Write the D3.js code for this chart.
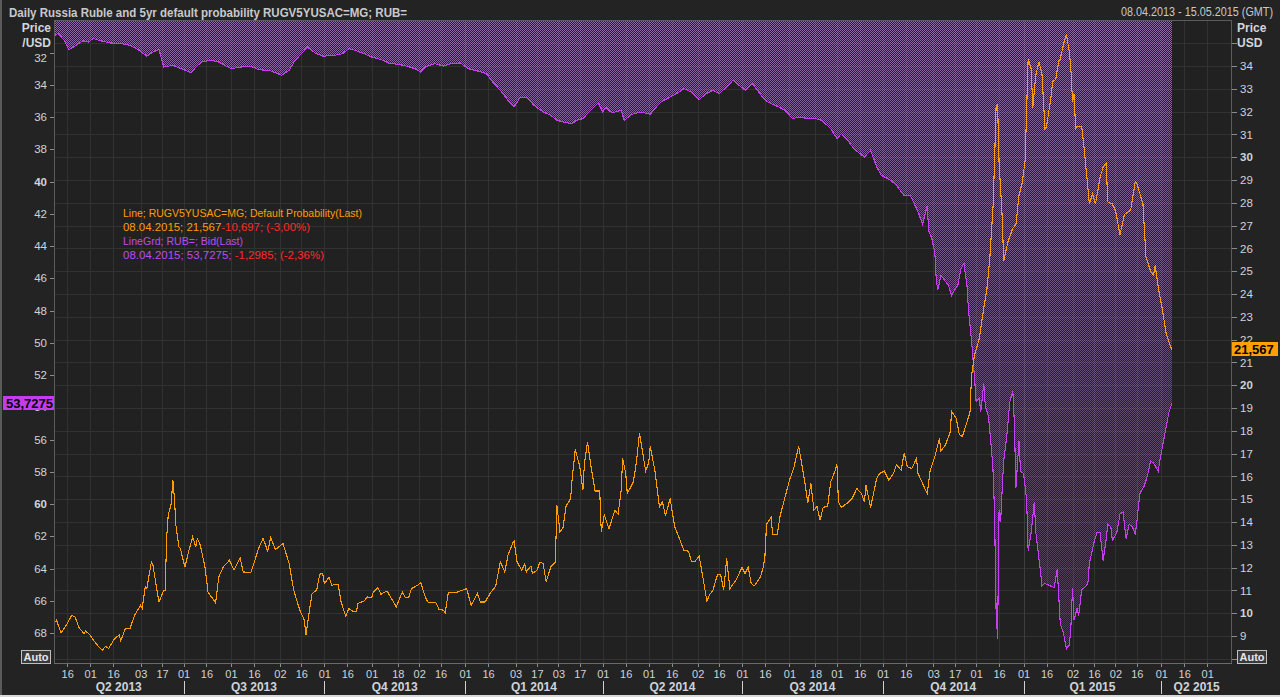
<!DOCTYPE html>
<html><head><meta charset="utf-8">
<script src="https://cdn.jsdelivr.net/npm/d3@7"></script>
<style>html,body{margin:0;padding:0;background:#232323;overflow:hidden}</style>
</head><body><svg id="c" width="1280" height="697"></svg>
<script>
// ---------- DATA ----------
const cdsDates = [
"2013-04-08","2013-04-09","2013-04-12","2013-04-16","2013-04-19","2013-04-21","2013-04-24","2013-04-27","2013-04-28",
"2013-05-01","2013-05-04","2013-05-07","2013-05-09","2013-05-11","2013-05-13","2013-05-17","2013-05-20","2013-05-21","2013-05-24","2013-05-27","2013-05-30",
"2013-06-03","2013-06-04","2013-06-06","2013-06-07","2013-06-10","2013-06-11","2013-06-14","2013-06-15","2013-06-18","2013-06-19","2013-06-20","2013-06-21","2013-06-23","2013-06-24","2013-06-25","2013-06-26","2013-06-28","2013-06-29",
"2013-07-01","2013-07-02","2013-07-04","2013-07-07","2013-07-09","2013-07-10","2013-07-12","2013-07-15","2013-07-17","2013-07-22","2013-07-24","2013-07-27","2013-07-31",
"2013-08-03","2013-08-07","2013-08-09","2013-08-14","2013-08-16","2013-08-19","2013-08-22","2013-08-25","2013-08-27","2013-08-30",
"2013-09-04","2013-09-08","2013-09-11","2013-09-15","2013-09-18","2013-09-19","2013-09-21","2013-09-23","2013-09-26","2013-09-28","2013-09-30",
"2013-10-01","2013-10-04","2013-10-06","2013-10-10","2013-10-12","2013-10-15","2013-10-17","2013-10-20","2013-10-22","2013-10-23","2013-10-27","2013-10-29",
"2013-11-01","2013-11-02","2013-11-05","2013-11-07","2013-11-11","2013-11-17","2013-11-21","2013-11-23","2013-11-25","2013-11-27",
"2013-12-01","2013-12-03","2013-12-06","2013-12-08","2013-12-13","2013-12-15","2013-12-18","2013-12-19","2013-12-21","2013-12-27",
"2014-01-02","2014-01-05","2014-01-09","2014-01-11","2014-01-14","2014-01-18","2014-01-21","2014-01-24","2014-01-27","2014-01-29",
"2014-02-01","2014-02-02","2014-02-04","2014-02-07","2014-02-09","2014-02-10","2014-02-13","2014-02-14","2014-02-17","2014-02-19","2014-02-21","2014-02-23","2014-02-26",
"2014-03-01","2014-03-02","2014-03-04","2014-03-06","2014-03-08","2014-03-11","2014-03-12","2014-03-14","2014-03-17","2014-03-19","2014-03-20","2014-03-22","2014-03-24","2014-03-27","2014-03-30","2014-03-31",
"2014-04-02","2014-04-05","2014-04-09","2014-04-11","2014-04-13","2014-04-14","2014-04-16","2014-04-17","2014-04-21","2014-04-23","2014-04-25","2014-04-27","2014-04-29",
"2014-05-01","2014-05-02","2014-05-05","2014-05-08","2014-05-10","2014-05-12","2014-05-15","2014-05-18","2014-05-21","2014-05-24","2014-05-27","2014-05-29","2014-05-31",
"2014-06-03","2014-06-05","2014-06-08","2014-06-10","2014-06-12","2014-06-15","2014-06-17","2014-06-19","2014-06-21","2014-06-23","2014-06-27",
"2014-07-01","2014-07-03","2014-07-05","2014-07-07","2014-07-09","2014-07-13","2014-07-15","2014-07-16","2014-07-17","2014-07-20","2014-07-21","2014-07-24","2014-07-26","2014-07-30",
"2014-08-01","2014-08-04","2014-08-07","2014-08-09","2014-08-11","2014-08-13","2014-08-15","2014-08-17","2014-08-19","2014-08-21","2014-08-23","2014-08-26","2014-08-28","2014-08-31",
"2014-09-01","2014-09-02","2014-09-04","2014-09-08","2014-09-11","2014-09-14","2014-09-17","2014-09-19","2014-09-20","2014-09-23","2014-09-27","2014-09-29",
"2014-10-02","2014-10-05","2014-10-08","2014-10-10","2014-10-13","2014-10-15","2014-10-17","2014-10-20","2014-10-23","2014-10-24","2014-10-27","2014-10-30",
"2014-11-01","2014-11-04","2014-11-07","2014-11-08","2014-11-11","2014-11-14","2014-11-15","2014-11-18","2014-11-20","2014-11-22","2014-11-25","2014-11-27","2014-11-28","2014-11-30",
"2014-12-03","2014-12-06","2014-12-08","2014-12-10","2014-12-12","2014-12-13","2014-12-14","2014-12-15","2014-12-16","2014-12-18","2014-12-19","2014-12-22","2014-12-25","2014-12-27","2014-12-29","2014-12-31",
"2015-01-02","2015-01-04","2015-01-06","2015-01-07","2015-01-09","2015-01-11","2015-01-13","2015-01-15","2015-01-16","2015-01-19","2015-01-20","2015-01-22","2015-01-24","2015-01-25","2015-01-27","2015-01-29","2015-01-31",
"2015-02-01","2015-02-02","2015-02-03","2015-02-04","2015-02-05","2015-02-08","2015-02-10","2015-02-13","2015-02-15","2015-02-17","2015-02-20","2015-02-22","2015-02-24","2015-02-25","2015-02-28",
"2015-03-02","2015-03-05","2015-03-08","2015-03-12","2015-03-15","2015-03-16","2015-03-20","2015-03-22","2015-03-25","2015-03-27","2015-03-28","2015-03-30",
"2015-04-02","2015-04-04","2015-04-07","2015-04-08"];
const cdsValues = [
9.62,9.69,9.14,9.55,9.91,9.84,9.33,9.11,9.22,
9.04,8.74,8.50,8.38,8.55,8.45,8.89,9.04,8.79,9.33,9.33,9.91,
10.35,10.21,11.15,11.08,12.25,12.11,10.86,10.49,11.01,11.01,13.35,14.30,14.81,15.86,15.10,13.86,12.91,12.84,
12.25,12.03,12.62,13.35,12.91,13.28,12.98,12.03,10.93,10.45,11.59,12.03,12.32,
11.89,12.43,11.81,11.78,12.18,12.84,13.28,12.72,13.32,12.79,
13.06,12.18,11.01,10.13,9.69,9.04,9.99,10.86,11.01,11.71,11.74,
11.30,11.57,11.23,11.27,10.49,9.87,10.21,10.06,10.06,10.43,10.53,10.71,
10.69,10.93,11.13,10.83,10.98,10.28,10.93,10.67,10.67,11.08,
11.23,11.35,10.71,10.45,10.45,10.16,10.13,10.01,10.89,10.93,
11.08,10.35,10.86,10.49,10.49,10.93,11.18,12.25,11.81,12.54,
13.06,13.17,12.25,11.89,12.15,11.81,12.07,11.74,11.89,12.25,12.18,11.37,12.03,
12.25,14.74,13.57,13.76,14.69,15.03,15.91,17.18,16.42,15.39,16.57,17.51,16.57,15.36,15.36,13.57,
14.30,13.71,14.52,14.34,15.39,16.79,16.13,15.25,15.76,16.64,17.91,17.07,16.24,
16.59,17.32,16.27,14.66,14.88,14.27,15.03,13.79,13.28,12.76,12.72,12.25,12.25,
12.50,11.74,10.53,10.83,11.01,11.70,11.71,11.01,12.40,11.08,11.45,
12.00,11.74,12.03,11.30,11.20,11.59,12.06,12.54,13.90,14.20,13.46,13.46,14.30,15.32,
15.83,16.42,17.32,16.57,15.76,14.84,15.69,14.52,14.69,14.08,14.64,14.69,15.76,16.27,
16.54,14.88,14.64,14.84,15.03,15.47,15.25,14.88,15.61,14.64,15.91,16.13,
16.23,15.83,16.13,16.52,16.27,17.03,16.42,16.35,16.79,16.13,15.69,15.25,
16.27,16.86,17.66,17.12,17.39,17.93,18.86,18.55,17.84,17.75,18.38,18.82,20.43,21.33,
22.04,23.39,24.19,25.63,27.77,29.74,32.16,32.34,29.74,27.42,25.45,26.34,26.88,27.06,28.31,28.85,
29.83,34.31,33.86,32.16,33.59,34.18,33.68,31.26,31.32,32.70,33.32,33.41,34.22,34.31,34.93,35.38,34.57,
33.77,32.43,32.79,31.26,31.36,31.32,30.10,27.95,28.40,27.95,29.12,29.57,29.74,28.04,27.95,
27.68,26.61,27.50,27.68,28.94,28.85,27.95,25.63,25.00,24.82,25.27,24.29,
23.21,22.32,21.69,21.567];

const rubDates = [
"2013-04-08","2013-04-10","2013-04-14","2013-04-17","2013-04-22","2013-04-26","2013-04-30",
"2013-05-03","2013-05-08","2013-05-14","2013-05-21","2013-05-27",
"2013-06-02","2013-06-07","2013-06-11","2013-06-15","2013-06-18","2013-06-24",
"2013-07-02","2013-07-06","2013-07-09","2013-07-13","2013-07-19","2013-07-24",
"2013-08-01","2013-08-08","2013-08-14","2013-08-19","2013-08-27",
"2013-09-03","2013-09-08","2013-09-12","2013-09-17","2013-09-20","2013-09-25","2013-09-30",
"2013-10-08","2013-10-13","2013-10-17","2013-10-21","2013-10-27",
"2013-11-01","2013-11-07","2013-11-12","2013-11-18","2013-11-24","2013-11-29",
"2013-12-03","2013-12-06","2013-12-12","2013-12-18","2013-12-23","2013-12-29",
"2014-01-03","2014-01-09","2014-01-15","2014-01-19","2014-01-24","2014-01-29",
"2014-02-02","2014-02-06","2014-02-10","2014-02-15","2014-02-21","2014-02-26",
"2014-03-02","2014-03-06","2014-03-12","2014-03-15","2014-03-19","2014-03-23","2014-03-26","2014-03-29",
"2014-04-01","2014-04-03","2014-04-07","2014-04-13","2014-04-15","2014-04-20","2014-04-26",
"2014-05-02","2014-05-05","2014-05-09","2014-05-15","2014-05-20","2014-05-24","2014-05-29",
"2014-06-03","2014-06-07","2014-06-12","2014-06-16","2014-06-21","2014-06-25","2014-06-29",
"2014-07-03","2014-07-08","2014-07-11","2014-07-16","2014-07-20","2014-07-25","2014-07-29",
"2014-08-03","2014-08-07","2014-08-13","2014-08-18","2014-08-22","2014-08-28",
"2014-09-01","2014-09-04","2014-09-08","2014-09-12","2014-09-16","2014-09-19","2014-09-23","2014-09-27","2014-09-30",
"2014-10-06","2014-10-10","2014-10-11","2014-10-13","2014-10-15","2014-10-19","2014-10-21","2014-10-24","2014-10-27","2014-10-30","2014-10-31",
"2014-11-02","2014-11-04","2014-11-05","2014-11-06","2014-11-08","2014-11-11","2014-11-13","2014-11-15","2014-11-17","2014-11-19","2014-11-21","2014-11-23","2014-11-25","2014-11-26","2014-11-28","2014-11-30",
"2014-12-01","2014-12-03","2014-12-04","2014-12-06","2014-12-07","2014-12-09","2014-12-11","2014-12-12","2014-12-13","2014-12-14","2014-12-15","2014-12-16","2014-12-17","2014-12-18","2014-12-19","2014-12-21","2014-12-23","2014-12-25","2014-12-26","2014-12-27","2014-12-29","2014-12-30",
"2015-01-01","2015-01-03","2015-01-04","2015-01-06","2015-01-08","2015-01-09","2015-01-12","2015-01-13","2015-01-15","2015-01-18","2015-01-21","2015-01-23","2015-01-25","2015-01-27","2015-01-29","2015-01-31",
"2015-02-01","2015-02-02","2015-02-03","2015-02-05","2015-02-06","2015-02-08","2015-02-10","2015-02-12","2015-02-13","2015-02-16","2015-02-18","2015-02-20","2015-02-22","2015-02-24","2015-02-25","2015-02-27","2015-02-28",
"2015-03-03","2015-03-05","2015-03-07","2015-03-09","2015-03-11","2015-03-13","2015-03-15","2015-03-16","2015-03-18","2015-03-21","2015-03-23","2015-03-25","2015-03-27","2015-03-30","2015-03-31",
"2015-04-02","2015-04-04","2015-04-06","2015-04-08"];
const rubValues = [
30.93,30.82,31.24,31.82,31.55,31.28,31.35,
31.13,31.28,31.41,31.44,31.55,
31.86,32.23,31.97,31.82,32.90,32.79,
33.10,33.27,32.90,32.59,32.48,32.59,
33.00,32.90,32.85,33.06,33.14,
33.41,33.10,32.48,31.97,31.66,32.03,32.23,
32.17,32.07,31.76,31.86,32.07,
32.28,32.44,32.65,32.73,32.85,33.00,
33.21,32.90,32.69,32.85,32.69,32.65,
33.00,33.14,33.31,33.83,34.34,34.96,
35.38,34.79,34.76,35.27,35.69,35.89,
36.20,36.31,36.41,36.20,36.10,35.69,35.41,35.13,
35.69,35.41,35.75,35.58,36.20,35.83,35.69,
35.83,35.48,35.07,34.76,34.51,34.24,34.45,
34.92,34.59,34.34,34.55,34.14,33.72,34.03,
34.34,33.93,34.34,34.96,35.17,35.38,35.58,
36.10,36.00,36.10,36.10,36.20,36.72,
37.34,37.03,37.44,37.96,38.27,38.48,38.06,39.10,39.61,
39.92,40.23,40.38,40.63,40.88,40.88,41.26,41.89,42.66,41.52,43.04,
43.54,44.43,46.20,46.71,45.82,46.20,46.45,47.09,46.71,46.45,45.44,45.06,46.45,47.97,49.87,52.28,
53.66,53.42,54.30,52.53,53.92,54.55,56.58,57.84,60.38,66.45,68.35,60.38,61.13,59.11,57.34,55.82,53.66,53.03,55.06,58.98,56.07,57.97,
58.10,59.74,62.91,61.76,59.87,61.76,64.17,65.06,64.93,65.06,65.18,64.05,67.46,67.97,68.98,68.73,
67.46,65.18,67.21,66.45,66.95,65.31,65.18,64.93,63.67,62.40,61.76,61.76,63.54,62.15,61.26,61.39,62.27,
61.76,60.63,60.50,62.15,61.26,61.39,61.90,61.13,59.36,58.86,58.22,57.34,57.47,57.97,57.34,
56.33,55.31,54.30,53.7275];

const tickDates = ["2013-04-16","2013-05-01","2013-05-16","2013-06-03","2013-06-17","2013-07-01","2013-07-16","2013-08-01","2013-08-16","2013-09-02","2013-09-16",
"2013-10-01","2013-10-16","2013-11-01","2013-11-18","2013-12-02","2013-12-16","2014-01-01","2014-01-16","2014-02-03","2014-02-17","2014-03-03","2014-03-17",
"2014-04-01","2014-04-16","2014-05-01","2014-05-16","2014-06-02","2014-06-16","2014-07-01","2014-07-16","2014-08-01","2014-08-18","2014-09-01","2014-09-16",
"2014-10-01","2014-10-16","2014-11-03","2014-11-17","2014-12-01","2014-12-16","2015-01-01","2015-01-16","2015-02-02","2015-02-16","2015-03-02","2015-03-16",
"2015-04-01","2015-04-16","2015-05-01"];
const yearStarts = ["2014-01-01","2015-01-01"];
const quarterStarts = ["2013-04-01","2013-07-01","2013-10-01","2014-01-01","2014-04-01","2014-07-01","2014-10-01","2015-01-01","2015-04-01","2015-07-01"];
const quarterLabels = ["Q2 2013","Q3 2013","Q4 2013","Q1 2014","Q2 2014","Q3 2014","Q4 2014","Q1 2015","Q2 2015"];
const leftTicks = [32,34,36,38,40,42,44,46,48,50,52,54,56,58,60,62,64,66,68];
const leftBold = [40,60];
const rightTicks = [9,10,11,12,13,14,15,16,17,18,19,20,21,22,23,24,25,26,27,28,29,30,31,32,33,34];
const rightBold = [10,20,30];
const gridValues = [8,9,10,11,12,13,14,15,16,17,18,19,20,21,22,23,24,25,26,27,28,29,30,31,32,33,34,35];
const titleText = "Daily Russia Ruble and 5yr default probability RUGV5YUSAC=MG; RUB=";
const rangeText = "08.04.2013 - 15.05.2015 (GMT)";
const lastCds = 21.567, lastRub = 53.7275;

// ---------- SETUP ----------
const ORANGE = "#ff9c00", PURPLE = "#c83cf2", RED = "#ff2a2a", TXT = "#cfd3da";
const FONT = "'Liberation Sans', Arial, sans-serif";
const L = 54, R = 1232, T = 20, B = 663;
const svg = d3.select("#c");
const parse = d3.utcParse("%Y-%m-%d");
const x = d3.scaleUtc().domain([parse("2013-04-08"), parse("2015-04-08")]).range([55, 1172]);
const yL = d3.scaleLinear().domain([30, 70]).range([20.25, 665.25]);
const yR = d3.scaleLinear().domain([20, 34]).range([385.2, 66]);

const cds = cdsDates.map((d, i) => ({date: parse(d), v: cdsValues[i]}));
const rub = rubDates.map((d, i) => ({date: parse(d), v: rubValues[i]}));

const defs = svg.append("defs");
const pat = defs.append("pattern").attr("id", "dots").attr("patternUnits", "userSpaceOnUse")
  .attr("width", 2).attr("height", 2);
pat.append("rect").attr("x", 0).attr("y", 0).attr("width", 1).attr("height", 1).attr("fill", "#9c74b4");
pat.append("rect").attr("x", 1).attr("y", 1).attr("width", 1).attr("height", 1).attr("fill", "#9c74b4");
const grad = defs.append("linearGradient").attr("id", "fade").attr("gradientUnits", "userSpaceOnUse")
  .attr("x1", 0).attr("y1", T).attr("x2", 0).attr("y2", B);
grad.append("stop").attr("offset", 0).attr("stop-color", "#fff").attr("stop-opacity", 0.9);
grad.append("stop").attr("offset", 1).attr("stop-color", "#fff").attr("stop-opacity", 0.3);
defs.append("mask").attr("id", "fm").attr("maskUnits", "userSpaceOnUse")
  .attr("x", 0).attr("y", 0).attr("width", 1280).attr("height", 697)
  .append("rect").attr("x", L).attr("y", T).attr("width", R - L).attr("height", B - T).attr("fill", "url(#fade)");
defs.append("clipPath").attr("id", "pc").append("rect")
  .attr("x", L + 1).attr("y", T + 1).attr("width", R - L - 1).attr("height", B - T - 1);

// backgrounds
svg.append("rect").attr("width", 1280).attr("height", 697).attr("fill", "#232323");
svg.append("rect").attr("x", 0).attr("y", 0).attr("width", 2).attr("height", 697).attr("fill", "#5a5a5a");
svg.append("rect").attr("x", 0).attr("y", 695).attr("width", 1280).attr("height", 2).attr("fill", "#d8d8d8");
svg.append("rect").attr("x", L).attr("y", T).attr("width", R - L).attr("height", B - T).attr("fill", "#212121");

// grid
const grid = svg.append("g").attr("shape-rendering", "crispEdges");
grid.selectAll(".h").data(gridValues).join("line")
  .attr("x1", L).attr("x2", R)
  .attr("y1", d => Math.round(yR(d)) + 0.5).attr("y2", d => Math.round(yR(d)) + 0.5)
  .attr("stroke", "#323232");
grid.selectAll(".v").data(tickDates.map(parse)).join("line")
  .attr("y1", T).attr("y2", B)
  .attr("x1", d => Math.round(x(d)) + 0.5).attr("x2", d => Math.round(x(d)) + 0.5)
  .attr("stroke", "#323232");
grid.selectAll(".yv").data(yearStarts.map(parse)).join("line")
  .attr("y1", T).attr("y2", B)
  .attr("x1", d => Math.round(x(d)) + 0.5).attr("x2", d => Math.round(x(d)) + 0.5)
  .attr("stroke", "#3e3e3e");

// plot content
const plot = svg.append("g").attr("clip-path", "url(#pc)");
const area = d3.area().x(d => x(d.date)).y0(T).y1(d => yL(d.v));
plot.append("path").datum(rub).attr("d", area).attr("fill", "url(#dots)").attr("mask", "url(#fm)");
const lineR = d3.line().x(d => x(d.date)).y(d => yL(d.v));
const lineC = d3.line().x(d => x(d.date)).y(d => yR(d.v));
plot.append("path").datum(rub).attr("d", lineR).attr("fill", "none").attr("stroke", PURPLE)
  .attr("stroke-width", 1.1).attr("shape-rendering", "crispEdges");
plot.append("path").datum(cds).attr("d", lineC).attr("fill", "none").attr("stroke", ORANGE)
  .attr("stroke-width", 1.1).attr("shape-rendering", "crispEdges");

// frame
svg.append("rect").attr("x", L + 0.5).attr("y", T + 0.5).attr("width", R - L - 1).attr("height", B - T)
  .attr("fill", "none").attr("stroke", "#5c5c5c").attr("shape-rendering", "crispEdges");

// axes
function styleAxis(g, size) {
  g.select(".domain").remove();
  g.attr("font-family", FONT).attr("font-size", size);
  g.selectAll(".tick line").attr("stroke", "#8c8c8c").attr("shape-rendering", "crispEdges");
  g.selectAll(".tick text").attr("fill", TXT);
}
const gl = svg.append("g").attr("transform", `translate(${L},0)`)
  .call(d3.axisLeft(yL).tickValues(leftTicks).tickSize(4).tickPadding(3).tickFormat(d3.format("d")));
styleAxis(gl, 11.5);
gl.selectAll(".tick text").attr("font-weight", d => leftBold.includes(d) ? "bold" : null)
  .attr("dy", d => d === 32 ? "0.75em" : "0.32em");

const gr = svg.append("g").attr("transform", `translate(${R},0)`)
  .call(d3.axisRight(yR).tickValues(rightTicks.concat([8, 35])).tickSize(5).tickPadding(3)
    .tickFormat(d => rightTicks.includes(d) ? d : ""));
styleAxis(gr, 11.5);
gr.selectAll(".tick text").attr("font-weight", d => rightBold.includes(d) ? "bold" : null);

const gb = svg.append("g").attr("transform", `translate(0,${B})`)
  .call(d3.axisBottom(x).tickValues(tickDates.map(parse)).tickSize(4).tickPadding(3)
    .tickFormat(d3.utcFormat("%d")));
styleAxis(gb, 11);
svg.append("line").attr("x1", L).attr("x2", R).attr("y1", B + 0.5).attr("y2", B + 0.5)
  .attr("stroke", "#6a6a6a").attr("shape-rendering", "crispEdges");

// quarters
const qs = quarterStarts.map(parse);
const qg = svg.append("g").attr("font-family", FONT);
qg.selectAll("line").data(qs.slice(1, -1)).join("line")
  .attr("x1", d => Math.round(x(d)) + 0.5).attr("x2", d => Math.round(x(d)) + 0.5)
  .attr("y1", 681).attr("y2", 694).attr("stroke", "#d0d0d0").attr("shape-rendering", "crispEdges");
qg.selectAll("text").data(quarterLabels).join("text")
  .attr("x", (d, i) => (Math.max(L, x(qs[i])) + Math.min(R, x(qs[i + 1]))) / 2)
  .attr("y", 691).attr("text-anchor", "middle").attr("font-size", 12).attr("font-weight", "bold")
  .attr("fill", TXT).text(d => d);

// titles
svg.append("text").attr("x", 9).attr("y", 16.5).attr("font-family", FONT).attr("font-size", 12)
  .attr("font-weight", "bold").attr("fill", "#c9c9c9").attr("textLength", 398)
  .attr("lengthAdjust", "spacingAndGlyphs").text(titleText);
svg.append("text").attr("x", 1121).attr("y", 16).attr("font-family", FONT)
  .attr("font-size", 12).attr("fill", "#c9c9c9").attr("textLength", 152)
  .attr("lengthAdjust", "spacingAndGlyphs").text(rangeText);
const unitL = svg.append("g").attr("font-family", FONT).attr("font-size", 12).attr("font-weight", "bold").attr("fill", "#d2d6dc");
unitL.append("text").attr("x", 51).attr("y", 32).attr("text-anchor", "end").text("Price");
unitL.append("text").attr("x", 51).attr("y", 47).attr("text-anchor", "end").text("/USD");
unitL.append("text").attr("x", 1237).attr("y", 32).text("Price");
unitL.append("text").attr("x", 1237).attr("y", 47).text("USD");

// legend
const lg = svg.append("g").attr("font-family", FONT).attr("font-size", 11.5);
lg.append("text").attr("x", 123).attr("y", 217).attr("fill", ORANGE)
  .attr("textLength", 239).attr("lengthAdjust", "spacingAndGlyphs")
  .text("Line; RUGV5YUSAC=MG; Default Probability(Last)");
const t2 = lg.append("text").attr("x", 123).attr("y", 231).attr("textLength", 187).attr("lengthAdjust", "spacingAndGlyphs");
t2.append("tspan").attr("fill", ORANGE).text("08.04.2015; 21,567");
t2.append("tspan").attr("fill", RED).text("-10,697; (-3,00%)");
lg.append("text").attr("x", 123).attr("y", 245).attr("fill", "#b84ef0")
  .attr("textLength", 120).attr("lengthAdjust", "spacingAndGlyphs").text("LineGrd; RUB=; Bid(Last)");
const t4 = lg.append("text").attr("x", 123).attr("y", 259).attr("textLength", 201).attr("lengthAdjust", "spacingAndGlyphs");
t4.append("tspan").attr("fill", "#b84ef0").text("08.04.2015; 53,7275; ");
t4.append("tspan").attr("fill", RED).text("-1,2985; (-2,36%)");

// last value tags
const yc = yR(lastCds), yr = yL(lastRub);
svg.append("rect").attr("x", R).attr("y", Math.round(yc) - 7).attr("width", 46).attr("height", 14).attr("fill", "#ffa000");
svg.append("text").attr("x", R + 2).attr("y", Math.round(yc) + 5).attr("font-family", FONT).attr("font-size", 13)
  .attr("font-weight", "bold").attr("fill", "#000").text(d3.format(".3f")(lastCds).replace(".", ","));
svg.append("rect").attr("x", 3).attr("y", Math.round(yr) - 7).attr("width", L - 3).attr("height", 14).attr("fill", "#c43cf0");
svg.append("text").attr("x", L - 1).attr("y", Math.round(yr) + 5).attr("text-anchor", "end").attr("font-family", FONT)
  .attr("font-size", 13).attr("font-weight", "bold").attr("fill", "#000")
  .text(d3.format(".4f")(lastRub).replace(".", ","));

// Auto boxes
[[21, 650], [1237, 650]].forEach(([bx, by]) => {
  svg.append("rect").attr("x", bx + 0.5).attr("y", by + 0.5).attr("width", 29).attr("height", 13)
    .attr("fill", "#3a3a3a").attr("stroke", "#c0c0c0").attr("shape-rendering", "crispEdges");
  svg.append("text").attr("x", bx + 15).attr("y", by + 11).attr("text-anchor", "middle").attr("font-family", FONT)
    .attr("font-size", 11).attr("font-weight", "bold").attr("fill", "#e6e6e6").text("Auto");
});
</script></body></html>
